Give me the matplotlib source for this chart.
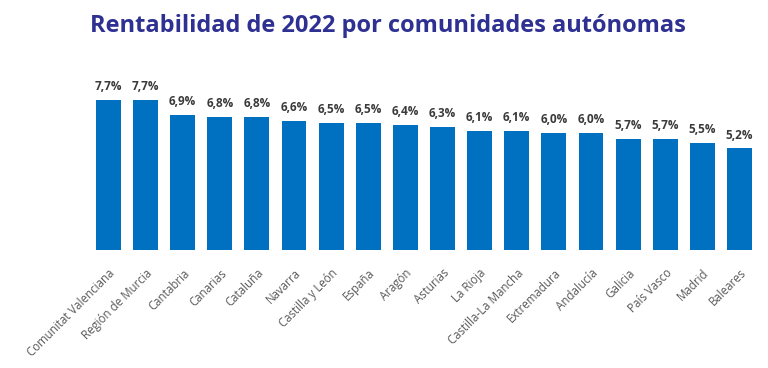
import matplotlib.pyplot as plt

regiones = ['Comunitat Valenciana', 'Región de Murcia', 'Cantabria', 'Canarias',
            'Cataluña', 'Navarra', 'Castilla y León', 'España', 'Aragón',
            'Asturias', 'La Rioja', 'Castilla-La Mancha', 'Extremadura',
            'Andalucía', 'Galicia', 'País Vasco', 'Madrid', 'Baleares']
rentabilidad = [7.7, 7.7, 6.9, 6.8, 6.8, 6.6, 6.5, 6.5, 6.4,
                6.3, 6.1, 6.1, 6.0, 6.0, 5.7, 5.7, 5.5, 5.2]

plt.rcParams['font.family'] = ['Open Sans', 'DejaVu Sans']

fig = plt.figure(figsize=(7.68, 3.68), dpi=100)
ax = fig.add_axes([0.117, 0.321, 0.870, 0.424])

x = range(len(regiones))
ax.bar(x, rentabilidad, width=0.67, color='#0070C0')
for i, v in zip(x, rentabilidad):
    ax.text(i, v + 0.35, f'{v:.1f}%'.replace('.', ','), ha='center', va='bottom',
            fontsize=8.5, fontweight='bold', color='#3A3A3A')

ax.set_xlim(-0.5, len(regiones) - 0.5)
ax.set_ylim(0, 8)
ax.set_xticks(list(x))
ax.set_xticklabels(regiones, rotation=45, ha='right', rotation_mode='anchor',
                   fontsize=8.3, color='#595959')
ax.tick_params(axis='x', length=0, pad=12)
ax.set_yticks([])
for s in ax.spines.values():
    s.set_visible(False)

fig.text(0.505, 0.93, 'Rentabilidad de 2022 por comunidades autónomas',
         ha='center', va='center', fontsize=17, fontweight='bold', color='#2E3192')

fig.savefig('out.png', dpi=100)
